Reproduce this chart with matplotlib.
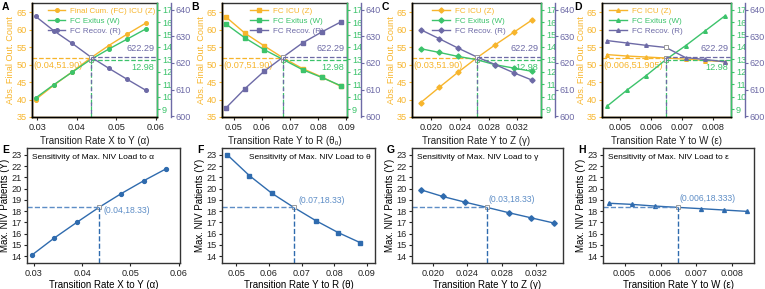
import numpy as np
import matplotlib.pyplot as plt
from matplotlib.lines import Line2D
from matplotlib.ticker import FormatStrFormatter

plt.rcParams['font.family'] = ['Liberation Sans', 'DejaVu Sans']

# sweep values of each rate (7 points, centre = baseline)
alpha = [0.0296, 0.0342, 0.0389, 0.0435, 0.0481, 0.0528, 0.0574]
theta = [0.0472, 0.0540, 0.0608, 0.0676, 0.0744, 0.0812, 0.0880]
gamma = [0.0185, 0.0211, 0.0237, 0.0263, 0.0289, 0.0315, 0.0341]
eps = [0.00456, 0.00520, 0.00584, 0.00648, 0.00712, 0.00776, 0.00840]

# final cumulative counts: ICU (Z), exitus (W), recovered (R)
icu_a = [40.0, 44.1, 48.0, 51.90, 55.5, 58.8, 61.9]
exitus_a = [9.89, 10.96, 11.98, 12.98, 13.83, 14.64, 15.44]
recov_a = [637.5, 632.1, 627.3, 622.29, 618.0, 613.8, 609.8]
icu_b = [63.7, 59.0, 55.4, 51.90, 48.9, 46.5, 43.8]
exitus_b = [15.85, 14.72, 13.78, 12.98, 12.17, 11.55, 10.88]
recov_b = [603.1, 610.4, 616.9, 622.29, 627.5, 631.6, 635.4]
icu_c = [39.1, 43.5, 47.8, 51.90, 55.7, 59.3, 62.9]
exitus_c = [13.86, 13.56, 13.24, 12.98, 12.57, 12.30, 12.03]
recov_c = [632.5, 629.1, 625.6, 622.29, 619.4, 616.3, 613.5]
icu_d = [52.9, 52.5, 52.2, 51.905, 51.6, 51.2, 50.9]
exitus_d = [9.22, 10.5, 11.7, 12.98, 14.1, 15.3, 16.5]
recov_d = [628.4, 627.5, 626.6, 625.8, 622.0, 621.3, 620.4]

# baseline values marked with dashed guides
base_z = [51.90, 51.90, 51.90, 51.905]
base_w = 12.98
base_r = 622.29

# max NIV load
niv_a = [14.1, 15.6, 17.0, 18.33, 19.55, 20.7, 21.75]
niv_b = [23.0, 21.15, 19.6, 18.33, 17.15, 16.1, 15.2]
niv_c = [19.9, 19.3, 18.8, 18.33, 17.85, 17.4, 16.95]
niv_d = [18.7, 18.6, 18.45, 18.333, 18.22, 18.1, 17.98]

YEL = '#F7B52C'
GRN = '#3CC36B'
PUR = '#6D6AA6'
BLU = '#2F6BAE'
LBLU = '#5D8DC6'
GREY = '#999999'

W, H = 765, 289
fig = plt.figure(figsize=(W / 100, H / 100), dpi=100)


def px(l, t, r, b):
    return [l / W, 1 - b / H, (r - l) / W, (b - t) / H]


def top_panel(rect, x, z, w, r, bz, xlim, xticks, fmt, xlabel, zname, mk, letter, lx, ctext, legx):
    c = 3
    ax = fig.add_axes(rect)
    ax2 = ax.twinx()
    ax3 = ax.twinx()
    ax3.spines['right'].set_position(('outward', 10))
    ylz, ylw, ylr = (35, 67.7), (8.36, 17.54), (599.7, 642.5)
    for a, y, col, yl in ((ax, z, YEL, ylz), (ax2, w, GRN, ylw), (ax3, r, PUR, ylr)):
        a.plot(x, y, color=col, lw=1, marker=mk, ms=2.6, markevery=[0, 1, 2, 4, 5, 6])
        a.plot([x[c]], [y[c]], ls='none', marker='s', ms=3.5, mfc='white', mec=GREY, mew=0.7)
        a.set_ylim(yl)
        a.tick_params(axis='y', colors=col, labelsize=6.6, length=2.5, width=0.8, pad=1)
    ax.set_xlim(xlim)
    span = xlim[1] - xlim[0]
    # dashed guide lines
    ax.plot([xlim[0], x[c]], [bz, bz], ls='--', color=YEL, lw=0.9)
    ax2.plot([x[c], xlim[1]], [base_w, base_w], ls='--', color=GRN, lw=0.9)
    ax3.plot([x[c], xlim[1]], [base_r, base_r], ls='--', color=PUR, lw=0.9)
    ax2.plot([x[c], x[c]], [ylw[0], base_w], ls='--', color=GRN, lw=0.9)
    ax3.plot([x[c], x[c]], [ylr[0], base_r], ls=(3, (3, 3)), color=PUR, lw=0.9)
    ax.text(xlim[0] + 0.01 * span, bz - 0.7, ctext, color=YEL,
            fontsize=6.6, ha='left', va='top')
    ax3.text(xlim[1] - 0.02 * span, base_r + 1.3, '%.2f' % base_r, color=PUR,
             fontsize=6.6, ha='right', va='bottom')
    ax2.text(xlim[1] - 0.02 * span, base_w - 0.25, '%.2f' % base_w, color=GRN,
             fontsize=6.6, ha='right', va='top')
    ax.set_yticks([35, 40, 45, 50, 55, 60, 65])
    ax2.set_yticks(range(9, 18))
    ax3.set_yticks([600, 610, 620, 630, 640])
    ax.set_xticks(xticks)
    ax.xaxis.set_major_formatter(FormatStrFormatter(fmt))
    ax.tick_params(axis='x', labelsize=6.6, length=2.5, width=0.8, pad=2, colors='#222222')
    ax.set_xlabel(xlabel, fontsize=7, labelpad=3, color='#222222')
    ax.set_ylabel('Abs. Final Out. Count', fontsize=6.6, color=YEL, labelpad=1)
    ax.spines['left'].set_color(YEL)
    ax.spines['bottom'].set_color(YEL)
    ax.spines['top'].set_color('#333333')
    for a in (ax, ax2, ax3):
        for s in a.spines.values():
            s.set_linewidth(1.0)
    ax2.spines['right'].set_color(GRN)
    ax3.spines['right'].set_color(PUR)
    ax2.spines['top'].set_visible(False)
    ax3.spines['top'].set_visible(False)
    handles = [Line2D([], [], color=YEL, marker=mk, ms=2.6, lw=1),
               Line2D([], [], color=GRN, marker=mk, ms=2.6, lw=1),
               Line2D([], [], color=PUR, marker=mk, ms=2.6, lw=1)]
    leg = ax3.legend(handles, [zname, 'FC Exitus (W)', 'FC Recov. (R)'], loc='upper left',
                     bbox_to_anchor=(legx, 0.99), frameon=False, fontsize=5.8,
                     handlelength=2.2, handletextpad=0.6, labelspacing=0.3, borderaxespad=0)
    for t, col in zip(leg.get_texts(), (YEL, GRN, PUR)):
        t.set_color(col)
    fig.text(lx / W, 0.993, letter, fontsize=7.5, fontweight='bold', va='top')


def bottom_panel(rect, x, y, xlim, xticks, fmt, xlabel, title, tpos, mk, letter, lab, off):
    c = 3
    ax = fig.add_axes(rect)
    ax.plot(x, y, color=BLU, lw=1, marker=mk, ms=2.8, markevery=[0, 1, 2, 4, 5, 6])
    ax.plot([x[c]], [y[c]], ls='none', marker='s', ms=3.5, mfc='white', mec=GREY, mew=0.7)
    ax.set_xlim(xlim)
    ax.set_ylim(13.4, 23.6)
    ax.plot([xlim[0], x[c]], [y[c], y[c]], ls='--', color=LBLU, lw=1)
    ax.plot([x[c], x[c]], [13.4, y[c]], ls='--', color=BLU, lw=1)
    ax.text(x[c] + off[0] * (xlim[1] - xlim[0]), y[c] + off[1], lab, color=LBLU,
            fontsize=6.2, ha='left', va='center')
    if tpos == 'left':
        ax.text(0.03, 0.95, title, transform=ax.transAxes, fontsize=6, va='top', ha='left')
    else:
        ax.text(0.97, 0.95, title, transform=ax.transAxes, fontsize=6, va='top', ha='right')
    ax.set_yticks(range(14, 24))
    ax.set_xticks(xticks)
    ax.xaxis.set_major_formatter(FormatStrFormatter(fmt))
    ax.tick_params(labelsize=6.6, length=2.5, width=0.8, pad=1.5, colors='#222222')
    ax.set_xlabel(xlabel, fontsize=7, labelpad=2)
    ax.set_ylabel('Max. NIV Patients (Y)', fontsize=7, labelpad=1)
    for s in ax.spines.values():
        s.set_linewidth(1.0)
        s.set_color('#333333')
    fig.text(rect[0] - 25 / W, 1 - 145 / H, letter, fontsize=7.5, fontweight='bold', va='top')


top_panel(px(32, 3, 157, 117), alpha, icu_a, exitus_a, recov_a, base_z[0], (0.0287, 0.0603),
          [0.03, 0.04, 0.05, 0.06], '%.2f', 'Transition Rate X to Y (α)',
          'Final Cum. (FC) ICU (Z)', 'o', 'A', 2, '(0.04,51.90)', 0.1)
top_panel(px(222, 3, 347, 117), theta, icu_b, exitus_b, recov_b, base_z[1], (0.0458, 0.0902),
          [0.05, 0.06, 0.07, 0.08, 0.09], '%.2f', 'Transition Rate Y to R (θ₀)',
          'FC ICU (Z)', 's', 'B', 191, '(0.07,51.90)', 0.2)
top_panel(px(412, 3, 541, 117), gamma, icu_c, exitus_c, recov_c, base_z[2], (0.0173, 0.0353),
          [0.020, 0.024, 0.028, 0.032], '%.3f', 'Transition Rate Y to Z (γ)',
          'FC ICU (Z)', 'D', 'C', 382, '(0.03,51.90)', 0.13)
top_panel(px(602, 3, 731, 117), eps, icu_d, exitus_d, recov_d, base_z[3], (0.0044, 0.0086),
          [0.005, 0.006, 0.007, 0.008], '%.3f', 'Transition Rate Y to W (ε)',
          'FC ICU (Z)', '^', 'D', 574, '(0.006,51.905)', 0.03)

bottom_panel(px(27, 148, 180, 263), alpha, niv_a, (0.0286, 0.0603),
             [0.03, 0.04, 0.05, 0.06], '%.2f', 'Transition Rate X to Y (α)',
             'Sensitivity of Max. NIV Load to α', 'left', 'o', 'E', '(0.04,18.33)', (0.03, -0.3))
bottom_panel(px(222, 148, 375, 263), theta, niv_b, (0.0456, 0.0925),
             [0.05, 0.06, 0.07, 0.08, 0.09], '%.2f', 'Transition Rate Y to R (θ)',
             'Sensitivity of Max. NIV Load to θ', 'right', 's', 'F', '(0.07,18.33)', (0.03, 0.6))
bottom_panel(px(412, 148, 563, 263), gamma, niv_c, (0.0175, 0.0352),
             [0.020, 0.024, 0.028, 0.032], '%.3f', 'Transition Rate Y to Z (γ)',
             'Sensitivity of Max. NIV Load to γ', 'left', 'D', 'G', '(0.03,18.33)', (0.01, 0.7))
bottom_panel(px(603, 148, 754, 263), eps, niv_d, (0.0044, 0.0086),
             [0.005, 0.006, 0.007, 0.008], '%.3f', 'Transition Rate Y to W (ε)',
             'Sensitivity of Max. NIV Load to ε', 'left', '^', 'H', '(0.006,18.333)', (0.01, 0.75))

fig.savefig('out.png', dpi=100)
